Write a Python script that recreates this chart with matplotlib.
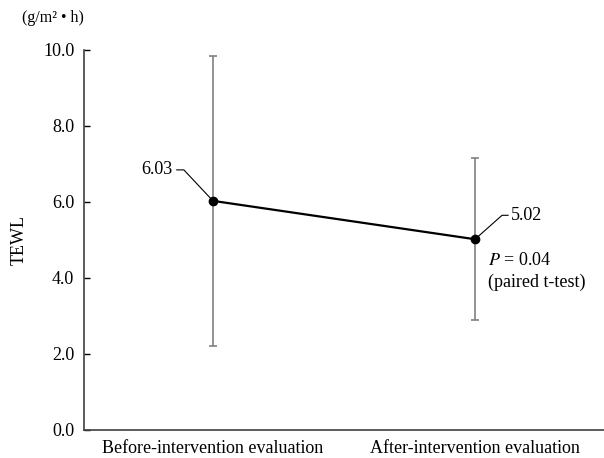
import numpy as np
import matplotlib as mpl
import matplotlib.pyplot as plt

# data
groups = ['Before-intervention evaluation', 'After-intervention evaluation']
means = [6.03, 5.02]
err_low = [2.20, 2.90]
err_high = [9.85, 7.15]
yticks = [0.0, 2.0, 4.0, 6.0, 8.0, 10.0]

mpl.rcParams['font.family'] = ['Liberation Serif', 'DejaVu Serif']
mpl.rcParams['mathtext.fontset'] = 'stix'
mpl.rcParams['font.size'] = 13

fig = plt.figure(figsize=(6.04, 4.58), dpi=100)
ax = fig.add_axes([84/604, 28/458, 520/604, 380/458])

x = np.arange(len(groups))
means = np.array(means)
lo = means - np.array(err_low)
hi = np.array(err_high) - means

# error bars (grey) then the mean line
ax.errorbar(x, means, yerr=[lo, hi], fmt='none', ecolor='0.5', elinewidth=1.2,
            capsize=3, capthick=1.2, zorder=1)
ax.plot(x, means, color='black', lw=1.6, marker='o', ms=6, zorder=3)

ax.set_xlim(-0.492, 1.492)
ax.set_ylim(0, 10)
ax.set_yticks(yticks)
ax.set_yticklabels(['{:.1f}'.format(v) for v in yticks])
ax.set_xticks(x)
ax.set_xticklabels(groups)
ax.tick_params(axis='y', direction='in', length=4, width=1, pad=7)
ax.tick_params(axis='x', length=0, pad=7)
for s in ['top', 'right']:
    ax.spines[s].set_visible(False)
for s in ['left', 'bottom']:
    ax.spines[s].set_color('0.25')
    ax.spines[s].set_linewidth(1.2)

ax.set_ylabel('TEWL', labelpad=11)
fig.text(22/604, 1 - 18/458, '(g/m\u00b2 \u2022 h)', fontsize=11.5, va='center', ha='left')

# value labels with leader lines (diagonal then short horizontal)
ax.plot([x[0], x[0] - 0.111, x[0] - 0.138],
        [means[0], means[0] + 0.815, means[0] + 0.815], color='black', lw=0.8, zorder=2)
ax.text(x[0] - 0.155, means[0] + 0.815, '{:.2f}'.format(means[0]), ha='right', va='center')
ax.plot([x[1], x[1] + 0.103, x[1] + 0.126],
        [means[1], means[1] + 0.63, means[1] + 0.63], color='black', lw=0.8, zorder=2)
ax.text(x[1] + 0.137, means[1] + 0.63, '{:.2f}'.format(means[1]), ha='left', va='center')

ax.text(x[1] + 0.05, 4.45, '$P$ = 0.04', ha='left', va='center')
ax.text(x[1] + 0.05, 3.88, '(paired t-test)', ha='left', va='center')

plt.savefig('out.png', dpi=100)
